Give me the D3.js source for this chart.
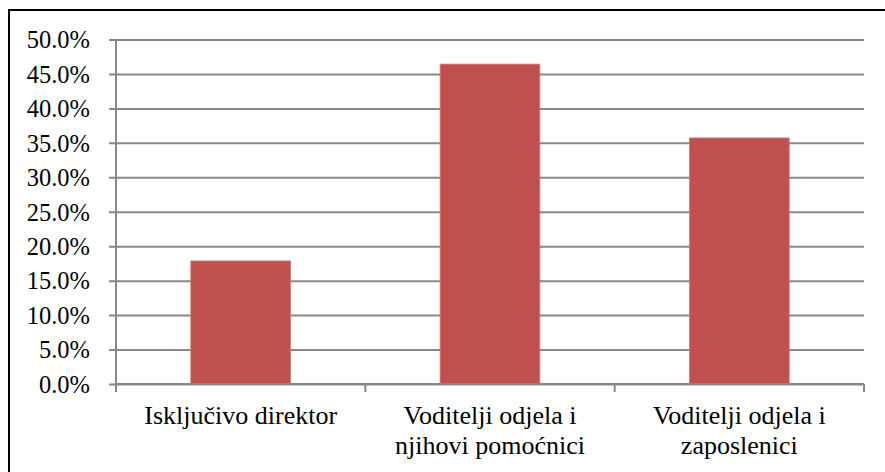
<!DOCTYPE html>
<html>
<head>
<meta charset="utf-8">
<script src="https://cdn.jsdelivr.net/npm/d3@7"></script>
<style>
  html, body { margin: 0; padding: 0; background: #fff; }
  svg { display: block; }
</style>
</head>
<body>
<svg id="chart" width="885" height="472"></svg>
<script>
// Categories (each label split into its wrapped lines) and their shares
const categories = ["Isključivo direktor", "Voditelji odjela i njihovi pomoćnici", "Voditelji odjela i zaposlenici"];
const categoryLines = [["Isključivo direktor"], ["Voditelji odjela i", "njihovi pomoćnici"], ["Voditelji odjela i", "zaposlenici"]];
const shares = [0.1786, 0.4643, 0.3571];
const yTicks = [0, 0.05, 0.10, 0.15, 0.20, 0.25, 0.30, 0.35, 0.40, 0.45, 0.50];

const W = 885, H = 472;
const plot = { left: 116, right: 864, top: 39.5, bottom: 384 };
const FONT = "'Liberation Serif', serif";

const svg = d3.select("#chart");

// outer frame (runs off the right and bottom edges)
svg.append("rect")
  .attr("x", 9).attr("y", 10)
  .attr("width", W + 20).attr("height", H + 20)
  .attr("fill", "#fff").attr("stroke", "#000").attr("stroke-width", 2);

const x = d3.scaleBand().domain(categories).range([plot.left, plot.right]).paddingInner(0.6).paddingOuter(0.3);
const xb = d3.scaleBand().domain(categories).range([plot.left, plot.right]).padding(0);
const y = d3.scaleLinear().domain([0, 0.5]).range([plot.bottom, plot.top]);

const grid = "#888888";

// horizontal gridlines with short ticks to the left of the axis
const yAxis = d3.axisLeft(y).tickValues(yTicks).tickFormat(d3.format(".1%")).tickSize(0).tickPadding(26);
const gy = svg.append("g").attr("transform", `translate(${plot.left},0)`).call(yAxis);
gy.attr("font-family", null).attr("font-size", null);
gy.select(".domain").remove();
gy.selectAll(".tick text")
  .style("font-family", FONT).style("font-size", "24.5px").style("fill", "#000")
  .attr("dy", "0.34em");
gy.selectAll(".tick").append("line")
  .attr("x1", -7).attr("x2", plot.right - plot.left)
  .attr("stroke", grid).attr("stroke-width", 2);

// vertical axis line
svg.append("line")
  .attr("x1", plot.left).attr("x2", plot.left)
  .attr("y1", y(0.5)).attr("y2", y(0) + 7)
  .attr("stroke", grid).attr("stroke-width", 2);

// bars
svg.append("g").selectAll("rect").data(categories).join("rect")
  .attr("x", d => x(d))
  .attr("width", x.bandwidth())
  .attr("y", (d, i) => y(shares[i]))
  .attr("height", (d, i) => y(0) - y(shares[i]))
  .attr("fill", "#C0504D")
  .attr("stroke", "#D07A77").attr("stroke-width", 0.8);

// category axis: baseline plus boundary ticks
const gx = svg.append("g").attr("transform", `translate(0,${plot.bottom})`);
gx.append("line").attr("x1", plot.left).attr("x2", plot.right).attr("stroke", grid).attr("stroke-width", 2);
const bounds = categories.map(c => xb(c)).concat([plot.right]);
gx.selectAll("line.tk").data(bounds).join("line").attr("class", "tk")
  .attr("x1", d => d).attr("x2", d => d).attr("y1", 0).attr("y2", 8)
  .attr("stroke", grid).attr("stroke-width", 2);

// wrapped category labels
const lab = gx.selectAll("text.cat").data(categories).join("text").attr("class", "cat")
  .attr("text-anchor", "middle")
  .style("font-family", FONT).style("font-size", "26px").style("fill", "#000")
  .attr("transform", d => `translate(${xb(d) + xb.bandwidth() / 2},0)`);
lab.selectAll("tspan").data((d, i) => categoryLines[i]).join("tspan")
  .attr("x", 0).attr("y", (d, j) => 40 + j * 30).text(d => d);
</script>
</body>
</html>
